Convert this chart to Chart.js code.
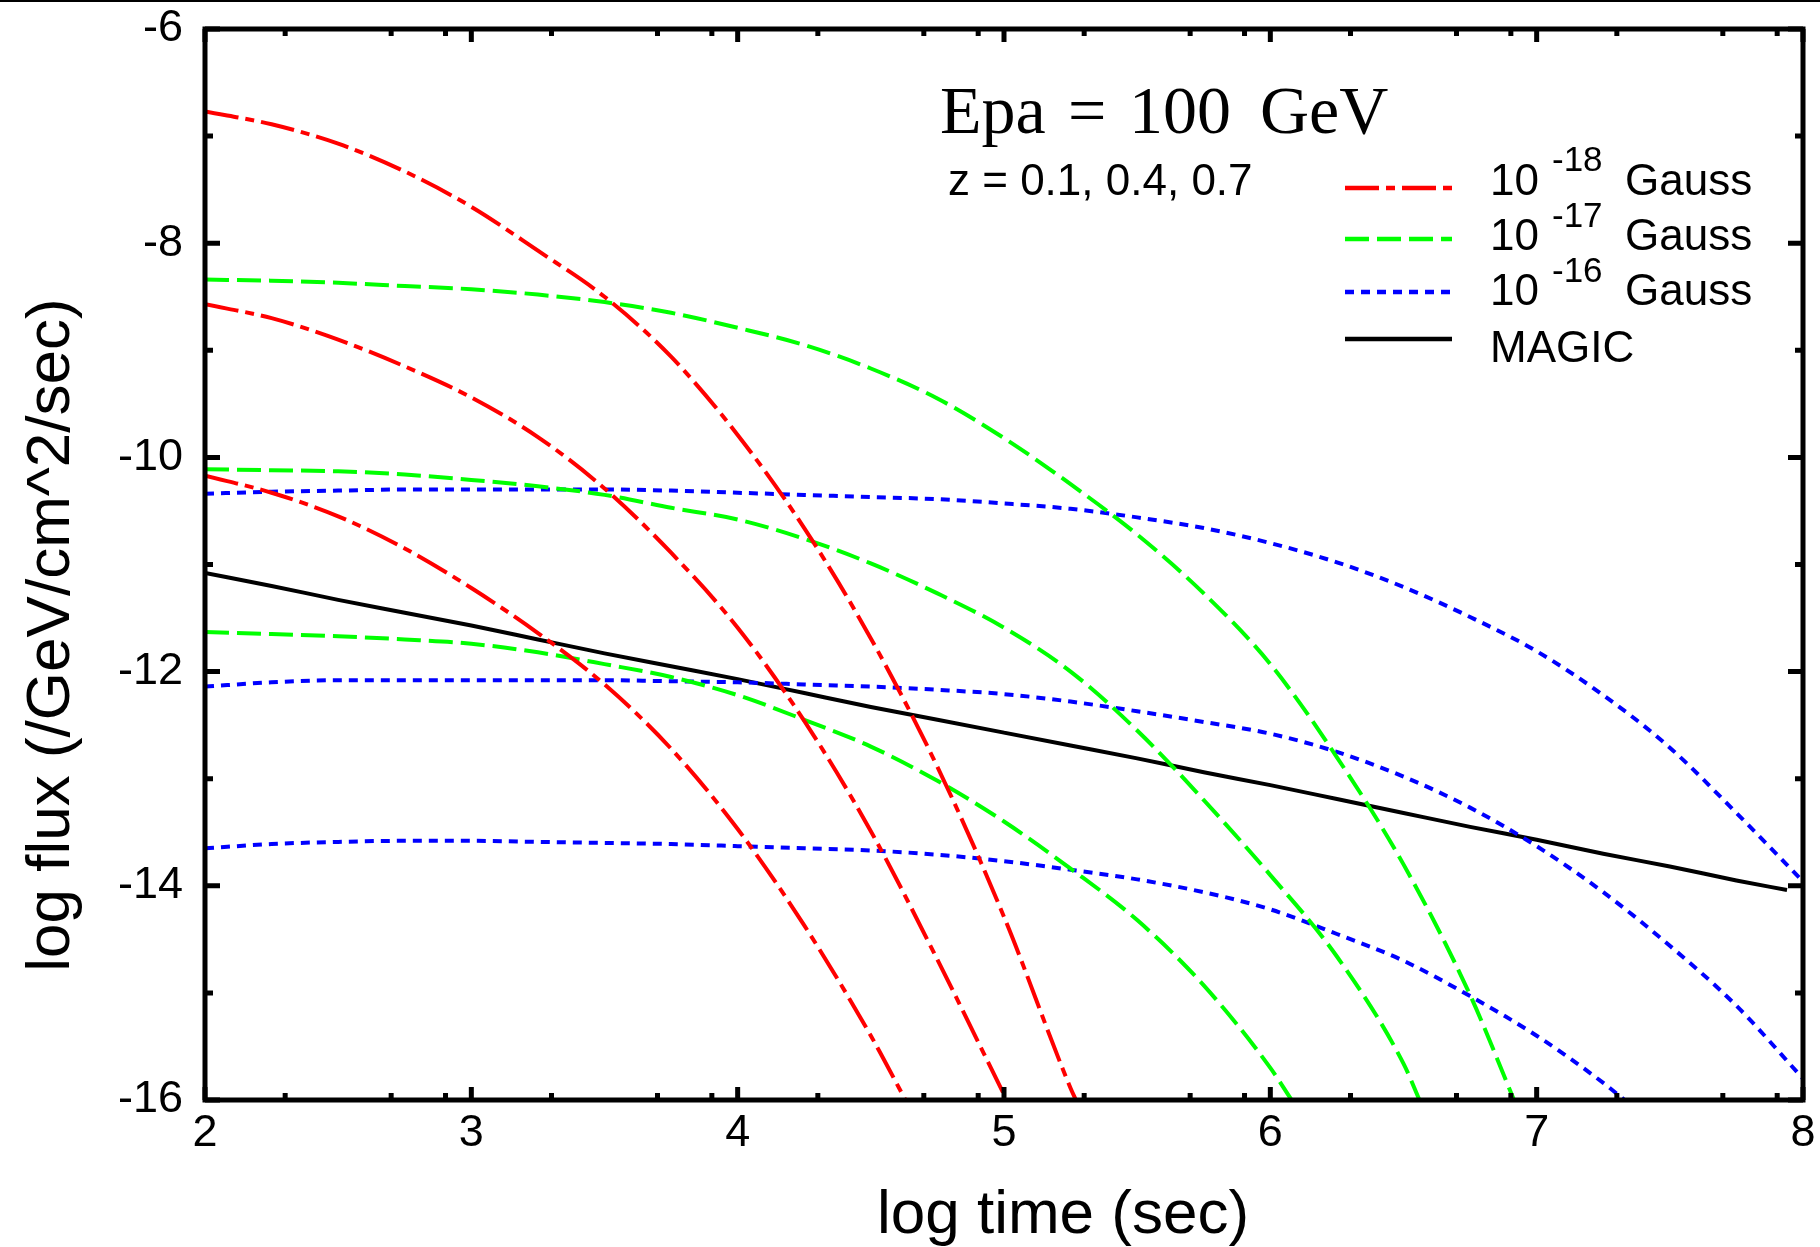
<!DOCTYPE html>
<html>
<head>
<meta charset="utf-8">
<title>log flux vs log time</title>
<script src="https://cdn.jsdelivr.net/npm/chart.js@4.4.1/dist/chart.umd.min.js"></script>
<style>
  html, body { margin: 0; padding: 0; background: #fff; }
  #wrap { width: 1820px; height: 1247px; }
</style>
</head>
<body>
<div id="wrap"><canvas id="fluxChart" width="1820" height="1247"></canvas></div>
<script>
// --- data (log10 time in sec, log10 flux) ---
const logTime = [2, 2.25, 2.5, 2.75, 3, 3.25, 3.5, 3.75, 4, 4.25, 4.5, 4.75, 5,
                 5.25, 5.5, 5.75, 6, 6.25, 6.5, 6.75, 7, 7.25, 7.5, 7.75, 8];

// 10^-18 Gauss, z = 0.1, 0.4, 0.7
const b18z01 = [-6.77, -6.89, -7.07, -7.33, -7.66, -8.07, -8.50, -9.06, -9.79, -10.66, -11.69, -12.89, -14.29, -15.89];
const b18z04 = [-8.57, -8.70, -8.90, -9.15, -9.44, -9.81, -10.29, -10.89, -11.59, -12.46, -13.49, -14.69];
const b18z07 = [-10.17, -10.33, -10.55, -10.85, -11.22, -11.64, -12.12, -12.72, -13.47, -14.37, -15.40];

// 10^-17 Gauss
const b17z01 = [-8.34, -8.35, -8.37, -8.40, -8.43, -8.48, -8.55, -8.65, -8.79, -8.95, -9.17, -9.45, -9.82,
                -10.25, -10.72, -11.27, -11.93, -12.80, -13.80, -15.02];
const b17z04 = [-10.11, -10.12, -10.13, -10.16, -10.21, -10.27, -10.35, -10.47, -10.58, -10.76, -10.99, -11.27, -11.59,
                -12.00, -12.55, -13.20, -13.90, -14.66, -15.66];
const b17z07 = [-11.63, -11.65, -11.67, -11.70, -11.74, -11.82, -11.93, -12.05, -12.22, -12.45, -12.70, -13.02, -13.40,
                -13.84, -14.32, -14.93, -15.70];

// 10^-16 Gauss
const b16z01 = [-10.34, -10.32, -10.31, -10.30, -10.30, -10.30, -10.30, -10.31, -10.33, -10.35, -10.37, -10.39, -10.43,
                -10.48, -10.56, -10.66, -10.80, -10.98, -11.21, -11.49, -11.81, -12.22, -12.71, -13.32, -13.96];
const b16z04 = [-12.14, -12.10, -12.08, -12.08, -12.08, -12.08, -12.08, -12.09, -12.10, -12.12, -12.14, -12.17, -12.21,
                -12.28, -12.37, -12.47, -12.58, -12.75, -12.98, -13.27, -13.63, -14.06, -14.56, -15.12, -15.80];
const b16z07 = [-13.65, -13.61, -13.59, -13.58, -13.58, -13.59, -13.60, -13.61, -13.63, -13.65, -13.67, -13.71, -13.77,
                -13.85, -13.94, -14.06, -14.22, -14.45, -14.70, -15.03, -15.40, -15.84];

// MAGIC sensitivity (the line stops a little before the right frame)
const magic = [-11.08, -11.20, -11.33, -11.45, -11.57, -11.70, -11.83, -11.95, -12.07, -12.20, -12.33, -12.45, -12.57,
               -12.69, -12.81, -12.94, -13.06, -13.19, -13.32, -13.45, -13.57, -13.70, -13.82, -13.95];
const magicEnd = [7.94, -14.04];

// log time where each curve leaves through the bottom axis (log flux = -16)
const exit18 = [5.27, 5.01, 4.63];
const exit17 = [6.915, 6.56, 6.08];
const exit16 = [null, null, 7.33];

const xMajorTicks = [2, 3, 4, 5, 6, 7, 8];
const xMinorMult = [2, 5, 8];
const yMajorTicks = [-16, -14, -12, -10, -8, -6];
const yMinorTicks = [-15, -13, -11, -9, -7];

const fieldLabels = ['-18', '-17', '-16'];
const zText = 'z = 0.1, 0.4, 0.7';

const SANS = '"Liberation Sans", Arial, sans-serif';
const SERIF = '"Liberation Serif", "Times New Roman", serif';

const RED = '#ff0000', GREEN = '#00ff00', BLUE = '#0000ff';
const DASH_RED = [34, 7, 9, 7];
const DASH_GREEN = [24, 8];
const DASH_BLUE = [9, 7];

// points from the grid, plus the exit point on the bottom axis
function buildPoints(values, exitT) {
    const pts = [];
    values.forEach((v, i) => { pts.push({ x: logTime[i], y: v }); });
    if (exitT !== null && exitT !== undefined) pts.push({ x: exitT, y: -16 });
    return pts;
}

function curve(points, color, dash, width) {
    return {
        data: points,
        borderColor: color,
        borderWidth: width,
        borderDash: dash,
        pointRadius: 0,
        fill: false,
        cubicInterpolationMode: 'monotone'
    };
}

const magicPoints = buildPoints(magic, null);
magicPoints.push({ x: magicEnd[0], y: magicEnd[1] });

const datasets = [
    curve(buildPoints(b18z01, exit18[0]), RED, DASH_RED, 4),
    curve(buildPoints(b18z04, exit18[1]), RED, DASH_RED, 4),
    curve(buildPoints(b18z07, exit18[2]), RED, DASH_RED, 4),
    curve(buildPoints(b17z01, exit17[0]), GREEN, DASH_GREEN, 4),
    curve(buildPoints(b17z04, exit17[1]), GREEN, DASH_GREEN, 4),
    curve(buildPoints(b17z07, exit17[2]), GREEN, DASH_GREEN, 4),
    curve(buildPoints(b16z01, exit16[0]), BLUE, DASH_BLUE, 4),
    curve(buildPoints(b16z04, exit16[1]), BLUE, DASH_BLUE, 4),
    curve(buildPoints(b16z07, exit16[2]), BLUE, DASH_BLUE, 4),
    curve(magicPoints, '#000000', [], 4)
];

// --- frame, inward ticks, titles, legend ---
const decorPlugin = {
    id: 'decor',
    afterDraw(chart) {
        const ctx = chart.ctx;
        const a = chart.chartArea;
        const xs = chart.scales.x, ys = chart.scales.y;
        ctx.save();

        // thin rule at the very top of the picture
        ctx.fillStyle = '#000';
        ctx.fillRect(0, 0, chart.width, 2);

        ctx.strokeStyle = '#000';
        ctx.lineWidth = 5;
        ctx.setLineDash([]);
        ctx.lineCap = 'butt';
        ctx.strokeRect(a.left, a.top, a.right - a.left, a.bottom - a.top);

        const xMinor = [];
        for (let n = 2; n < 8; n++) xMinorMult.forEach(m => xMinor.push(Math.log10(m) + n));

        const vTick = (v, len) => {
            const px = xs.getPixelForValue(v);
            ctx.beginPath();
            ctx.moveTo(px, a.bottom); ctx.lineTo(px, a.bottom - len);
            ctx.moveTo(px, a.top); ctx.lineTo(px, a.top + len);
            ctx.stroke();
        };
        const hTick = (v, len) => {
            const py = ys.getPixelForValue(v);
            ctx.beginPath();
            ctx.moveTo(a.left, py); ctx.lineTo(a.left + len, py);
            ctx.moveTo(a.right, py); ctx.lineTo(a.right - len, py);
            ctx.stroke();
        };
        xMajorTicks.forEach(v => vTick(v, 13));
        xMinor.forEach(v => vTick(v, 7));
        yMajorTicks.forEach(v => hTick(v, 15));
        yMinorTicks.forEach(v => hTick(v, 8));

        // axis titles
        ctx.fillStyle = '#000';
        ctx.font = '62px ' + SANS;
        ctx.textAlign = 'center';
        ctx.textBaseline = 'middle';
        ctx.fillText('log time (sec)', 1063, 1216);
        ctx.save();
        ctx.translate(52, 635);
        ctx.rotate(-Math.PI / 2);
        ctx.fillText('log flux (/GeV/cm^2/sec)', 0, 0);
        ctx.restore();

        // annotation
        ctx.textAlign = 'left';
        ctx.textBaseline = 'alphabetic';
        ctx.font = '68px ' + SERIF;
        ctx.fillText('Epa', 940, 133);
        ctx.fillText('=', 1068, 133);
        ctx.fillText('100', 1129, 133);
        ctx.fillText('GeV', 1260, 133);
        ctx.font = '44px ' + SANS;
        ctx.fillText(zText, 948, 195);

        // legend
        const rows = [
            { color: RED, dash: DASH_RED, y: 188, base: 195, sup: 171 },
            { color: GREEN, dash: DASH_GREEN, y: 239, base: 250, sup: 227 },
            { color: BLUE, dash: DASH_BLUE, y: 292, base: 305, sup: 282 }
        ];
        rows.forEach((r, i) => {
            ctx.strokeStyle = r.color;
            ctx.lineWidth = 4.5;
            ctx.setLineDash(r.dash);
            ctx.beginPath();
            ctx.moveTo(1345, r.y); ctx.lineTo(1452, r.y);
            ctx.stroke();
            ctx.font = '44px ' + SANS;
            ctx.fillText('10', 1490, r.base);
            ctx.fillText('Gauss', 1625, r.base);
            ctx.font = '35px ' + SANS;
            ctx.fillText(fieldLabels[i], 1552, r.sup);
        });
        ctx.strokeStyle = '#000';
        ctx.setLineDash([]);
        ctx.lineWidth = 4.5;
        ctx.beginPath();
        ctx.moveTo(1345, 339); ctx.lineTo(1452, 339);
        ctx.stroke();
        ctx.font = '44px ' + SANS;
        ctx.fillText('MAGIC', 1490, 362);

        ctx.restore();
    }
};

const chart = new Chart(document.getElementById('fluxChart'), {
    type: 'line',
    data: { datasets: datasets },
    options: {
        responsive: false,
        animation: false,
        devicePixelRatio: 1,
        layout: { padding: { top: 29, right: 17, left: 0, bottom: 0 } },
        plugins: { legend: { display: false }, tooltip: { enabled: false } },
        scales: {
            x: {
                type: 'linear',
                min: 2, max: 8,
                grid: { display: false, drawTicks: false },
                border: { display: false },
                ticks: {
                    stepSize: 1,
                    color: '#000',
                    padding: 7,
                    maxRotation: 0,
                    font: { family: SANS, size: 45 }
                },
                afterFit(scale) {
                    scale.height = 147;
                    scale.paddingLeft = 0;
                    scale.paddingRight = 0;
                }
            },
            y: {
                type: 'linear',
                min: -16, max: -6,
                grid: { display: false, drawTicks: false },
                border: { display: false },
                ticks: {
                    stepSize: 2,
                    color: '#000',
                    padding: 22,
                    font: { family: SANS, size: 45 }
                },
                afterFit(scale) {
                    scale.width = 205;
                    scale.paddingTop = 0;
                    scale.paddingBottom = 0;
                }
            }
        }
    },
    plugins: [decorPlugin]
});
</script>
</body>
</html>
